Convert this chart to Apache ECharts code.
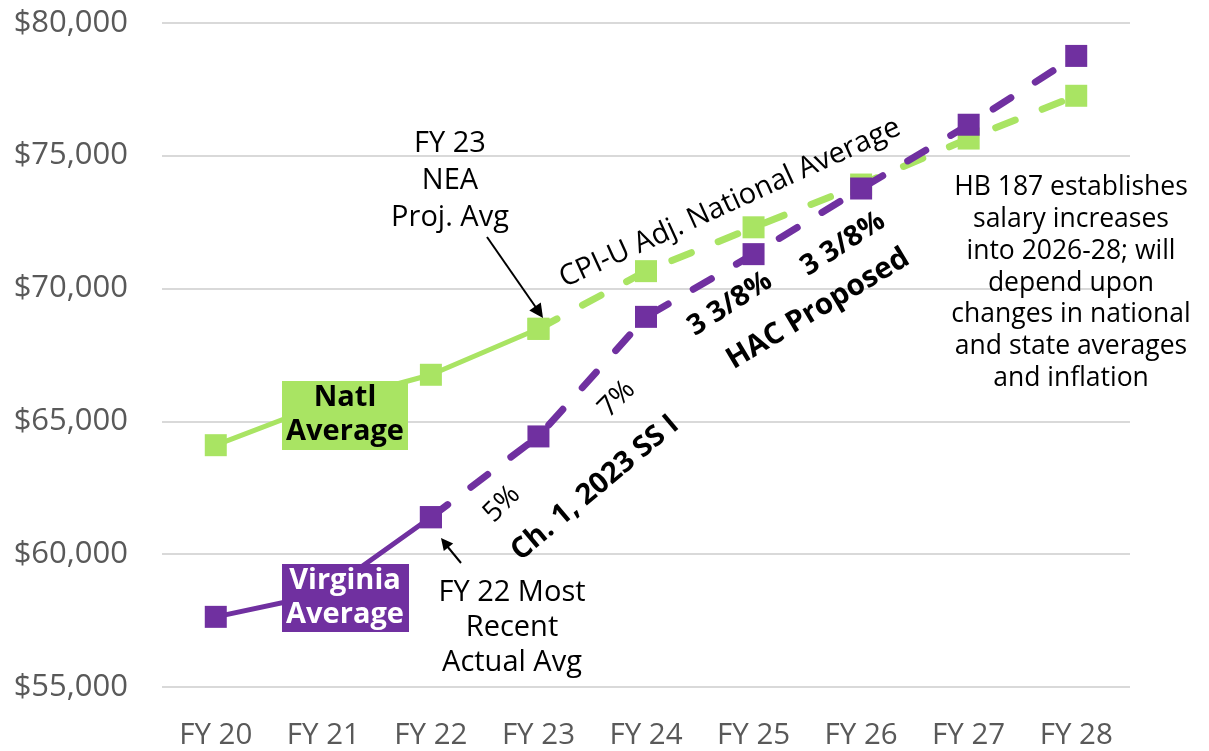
<!DOCTYPE html>
<html><head><meta charset="utf-8">
<script src="https://cdn.jsdelivr.net/npm/echarts@6/dist/echarts.min.js"></script>
<style>html,body{margin:0;padding:0;background:#fff}#c{width:1209px;height:751px}</style>
</head><body><div id="c"></div>
<script>
const categories = ['FY 20','FY 21','FY 22','FY 23','FY 24','FY 25','FY 26','FY 27','FY 28'];
const natlValues = [64100, 65650, 66750, 68480, 70650, 72300, 73910, 75640, 77250];
const vaValues   = [57640, 58500, 61390, 64430, 68930, 71290, 73760, 76160, 78750];
const natlActualEnd = 3; // FY 23 last solid point
const vaActualEnd = 2;   // FY 22 last solid point
const yTicks = [55000, 60000, 65000, 70000, 75000, 80000];

const GREEN = '#A9E463', PURPLE = '#7030A0';
const FONT = '"Open Sans", sans-serif';

function part(arr, from, to){ return arr.map((v,i)=> (i>=from && i<=to) ? v : null); }

const chart = echarts.init(document.getElementById('c'));

function txt(x,y,text,opt){
  opt = opt||{};
  return {type:'text', x:x, y:y, rotation:(opt.rot||0)*Math.PI/180, z:100,
    style:{text:text, font:(opt.weight||'normal')+' '+(opt.size||26)+'px '+FONT,
      fill:opt.color||'#000', align:'center', verticalAlign:'middle',
      lineHeight:opt.lh||36}};
}

const graphics = [
  // label boxes
  {type:'rect', shape:{x:282,y:381,width:126,height:69}, style:{fill:GREEN}, z:90},
  txt(345,415,'Natl\nAverage',{weight:'bold',size:29,lh:34}),
  {type:'rect', shape:{x:282,y:564,width:127,height:68}, style:{fill:PURPLE}, z:90},
  txt(345,598,'Virginia\nAverage',{weight:'bold',size:29,lh:34,color:'#fff'}),
  // FY23 NEA annotation
  txt(450,181,'FY 23\nNEA\nProj. Avg',{size:29,lh:37}),
  {type:'line', shape:{x1:487,y1:237,x2:537,y2:309}, style:{stroke:'#000',lineWidth:2}, z:100},
  {type:'polygon', shape:{points:[[543,318],[529.3,310.5],[540.8,302.5]]}, style:{fill:'#000'}, z:100},
  // CPI-U
  txt(730,203,'CPI-U Adj. National Average',{size:29,rot:24.5}),
  // 3 3/8% labels
  txt(730,304,'3 3/8%',{weight:'bold',size:28.5,rot:33}),
  txt(843,244,'3 3/8%',{weight:'bold',size:28.5,rot:33}),
  txt(818,309,'HAC Proposed',{weight:'bold',size:29.5,rot:31}),
  // 5% / 7%
  txt(502,504,'5%',{size:28,rot:45}),
  txt(617,399,'7%',{size:28,rot:45}),
  txt(595,488,'Ch. 1, 2023 SS I',{weight:'bold',size:29,rot:40}),
  // FY22 annotation
  {type:'line', shape:{x1:461,y1:563,x2:447,y2:546}, style:{stroke:'#000',lineWidth:2}, z:100},
  {type:'polygon', shape:{points:[[441,538],[453.2,543.6],[443.8,551.1]]}, style:{fill:'#000'}, z:100},
  txt(512,628,'FY 22 Most\nRecent\nActual Avg',{size:29,lh:35}),
  // HB 187
  txt(1071,283,'HB 187 establishes\nsalary increases\ninto 2026-28; will\ndepend upon\nchanges in national\nand state averages\nand inflation',{size:26.5,lh:31.8})
];

const dashStyle = (c)=>({color:c, width:7, type:[21,29], cap:'round'});

chart.setOption({
  animation:false,
  grid:{left:162, right:79, top:22.7, bottom:62, containLabel:false},
  xAxis:{type:'category', data:categories, boundaryGap:true,
    axisLine:{show:false}, axisTick:{show:false},
    axisLabel:{color:'#595959', fontSize:29.5, fontFamily:FONT, margin:34}},
  yAxis:{type:'value', min:yTicks[0], max:yTicks[yTicks.length-1], interval:5000,
    axisLine:{show:false}, axisTick:{show:false},
    splitLine:{lineStyle:{color:'#D9D9D9', width:2}},
    axisLabel:{color:'#595959', fontSize:31, fontFamily:FONT, margin:34,
      formatter:v=>'$'+v.toLocaleString('en-US')}},
  series:[
    {name:'Natl', type:'line', data:part(natlValues,0,natlActualEnd), symbol:'rect', symbolSize:22,
      lineStyle:{color:GREEN,width:5}, itemStyle:{color:GREEN}, z:2},
    {name:'Natl proj', type:'line', data:part(natlValues,natlActualEnd,8), symbol:'rect', symbolSize:22,
      lineStyle:dashStyle(GREEN), itemStyle:{color:GREEN}, z:2},
    {name:'VA', type:'line', data:part(vaValues,0,vaActualEnd), symbol:'rect', symbolSize:22,
      lineStyle:{color:PURPLE,width:5}, itemStyle:{color:PURPLE}, z:3},
    {name:'VA proj', type:'line', data:part(vaValues,vaActualEnd,8), symbol:'rect', symbolSize:22,
      lineStyle:dashStyle(PURPLE), itemStyle:{color:PURPLE}, z:3}
  ],
  graphic:graphics
});
</script></body></html>
